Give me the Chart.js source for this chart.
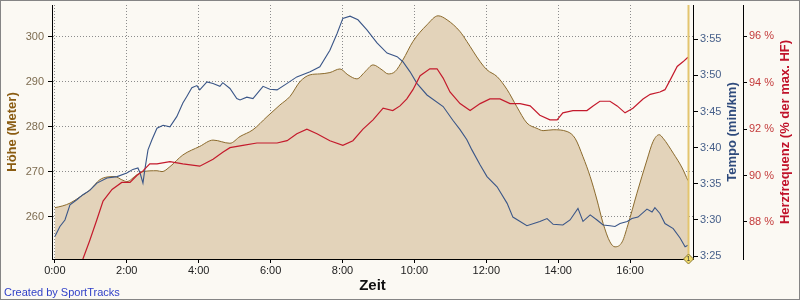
<!DOCTYPE html>
<html>
<head>
<meta charset="utf-8">
<title>Höhe / Tempo / Herzfrequenz</title>
<script src="https://cdn.jsdelivr.net/npm/chart.js@4.4.1/dist/chart.umd.min.js"></script>
<style>
  html, body { margin: 0; padding: 0; background: #fbf9f3; }
  #wrap { position: relative; width: 800px; height: 300px; }
  #chart { display: block; }
  #credit {
    position: absolute; left: 4px; top: 286px; line-height: 13px;
    font: 11px "Liberation Sans", Arial, sans-serif; color: #2f3fc8;
  }
</style>
</head>
<body>
<div id="wrap">
  <canvas id="chart" width="800" height="300"></canvas>
  <div id="credit">Created by SportTracks</div>
</div>
<script>
// Time axis in minutes, tick labels m:ss
const xTicks = [0, 2, 4, 6, 8, 10, 12, 14, 16];
const elevationTicks = [260, 270, 280, 290, 300];
const paceTicks = [205, 210, 215, 220, 225, 230, 235]; // seconds per km
const heartTicks = [88, 90, 92, 94, 96];

// Höhe (Meter)
const elevationTimes = [0.00, 0.22, 0.42, 0.70, 0.97, 1.25, 1.45, 1.67, 1.86, 2.00, 2.28, 2.45, 2.84, 2.98, 3.20, 3.56,
  4.03, 4.40, 4.87, 5.15, 5.51, 5.90, 6.26, 6.54, 6.82, 7.10, 7.37, 7.65, 7.93, 8.15, 8.40, 8.63, 8.85, 9.10, 9.27,
  9.46, 9.68, 9.96, 10.35, 10.66, 10.91, 11.27, 11.46, 11.83, 12.02, 12.30, 12.58, 12.85, 13.13, 13.41, 13.58, 13.86,
  14.25, 14.47, 14.69, 14.89, 15.08, 15.25, 15.44, 15.58, 15.78, 15.94, 16.19, 16.47, 16.64, 16.81, 16.92, 17.20,
  17.45, 17.61];
const elevationValues = [262.0, 262.4, 263.0, 264.4, 265.9, 268.2, 268.8, 268.9, 268.2, 267.8, 269.3, 270.0, 270.2,
  270.0, 271.1, 273.7, 275.6, 277.0, 276.3, 277.8, 279.3, 282.2, 284.8, 286.7, 290.0, 291.5, 291.7, 292.0, 292.8,
  291.5, 290.6, 292.2, 293.7, 292.6, 291.7, 292.2, 294.8, 298.9, 302.6, 304.6, 303.7, 301.1, 298.9, 294.4, 292.6,
  291.1, 288.2, 284.4, 280.8, 279.6, 279.1, 279.3, 278.9, 277.4, 273.3, 268.9, 263.7, 258.5, 254.4, 253.3, 254.4,
  258.2, 265.2, 272.6, 276.7, 278.2, 277.4, 274.1, 270.8, 268.0];

// Tempo (sec/km)
const paceTimes = [0.00, 0.14, 0.28, 0.42, 0.61, 0.78, 0.97, 1.17, 1.45, 1.73, 2.00, 2.17, 2.31, 2.37, 2.45, 2.50,
  2.59, 2.70, 2.84, 3.01, 3.20, 3.39, 3.56, 3.67, 3.81, 3.95, 4.03, 4.23, 4.40, 4.59, 4.67, 4.87, 5.06, 5.15, 5.34,
  5.51, 5.79, 5.98, 6.18, 6.46, 6.73, 7.10, 7.37, 7.65, 7.85, 8.01, 8.21, 8.43, 8.68, 8.96, 9.24, 9.52, 9.68, 9.88,
  10.07, 10.35, 10.80, 11.07, 11.27, 11.46, 11.60, 11.83, 12.02, 12.30, 12.58, 12.74, 13.13, 13.49, 13.69, 13.86,
  14.13, 14.33, 14.55, 14.69, 14.89, 15.08, 15.25, 15.44, 15.58, 15.72, 15.92, 16.05, 16.22, 16.47, 16.61, 16.69,
  16.83, 16.97, 17.20, 17.39, 17.53, 17.61];
const paceValues = [207.7, 209.1, 210.0, 212.1, 212.8, 213.5, 214.1, 215.1, 215.8, 216.0, 216.5, 217.0, 217.2, 216.5,
  215.1, 216.9, 219.7, 221.1, 222.7, 223.1, 222.9, 224.3, 226.2, 227.1, 228.3, 228.6, 228.0, 229.1, 228.9, 228.5,
  229.0, 228.2, 226.8, 226.6, 227.0, 226.8, 228.5, 228.1, 228.0, 228.9, 229.8, 230.5, 231.2, 233.5, 235.8, 237.9,
  238.2, 237.7, 236.3, 234.5, 233.1, 232.6, 231.9, 230.5, 228.9, 227.3, 225.7, 223.8, 222.5, 221.1, 219.7, 217.6,
  216.0, 214.6, 212.3, 210.4, 209.2, 209.8, 210.2, 209.4, 209.3, 210.0, 211.6, 209.8, 210.7, 210.0, 209.3, 209.2,
  209.1, 209.5, 209.8, 210.2, 210.4, 211.5, 211.1, 211.7, 210.9, 209.5, 208.8, 207.5, 206.3, 206.5];

// Herzfrequenz (% der max. HF)
const heartTimes = [0.70, 0.78, 0.97, 1.17, 1.34, 1.59, 1.86, 2.09, 2.28, 2.45, 2.64, 2.84, 3.20, 3.56, 4.03, 4.40,
  4.67, 4.87, 5.23, 5.62, 6.18, 6.46, 6.73, 7.01, 7.29, 7.65, 8.01, 8.29, 8.57, 8.85, 9.13, 9.40, 9.60, 9.79, 9.96,
  10.16, 10.43, 10.63, 10.80, 10.99, 11.27, 11.55, 11.83, 12.10, 12.38, 12.66, 12.94, 13.22, 13.49, 13.77, 13.97,
  14.13, 14.41, 14.80, 14.97, 15.16, 15.44, 15.64, 15.86, 16.08, 16.36, 16.56, 16.83, 16.97, 17.11, 17.31, 17.47,
  17.61];
const heartValues = [86.0, 86.4, 87.2, 88.1, 88.9, 89.4, 89.7, 89.7, 90.0, 90.2, 90.5, 90.5, 90.6, 90.5, 90.4, 90.7,
  91.0, 91.2, 91.3, 91.4, 91.4, 91.5, 91.8, 92.0, 91.8, 91.5, 91.3, 91.5, 92.0, 92.4, 92.9, 92.8, 93.0, 93.3, 93.7,
  94.3, 94.6, 94.6, 94.2, 93.6, 93.1, 92.8, 93.1, 93.3, 93.3, 93.1, 93.1, 93.0, 92.6, 92.4, 92.4, 92.7, 92.8, 92.8,
  93.0, 93.2, 93.2, 93.0, 92.7, 92.9, 93.3, 93.5, 93.6, 93.7, 94.1, 94.7, 94.9, 95.1];

const lapEnd = elevationTimes[elevationTimes.length - 1];

const FONT = '"Liberation Sans", Arial, sans-serif';

function toPoints(times, values) {
    return times.map((t, i) => ({ x: t, y: values[i] }));
}

function formatPace(sec) {
    const m = Math.floor(sec / 60);
    const s = Math.round(sec % 60);
    return m + ':' + String(s).padStart(2, '0');
}

// Keep the plot area where the reference has it: drop the label overhang padding
function fixWidth(w) {
    return s => {
        s.width = w;
        s.paddingTop = 0;
        s.paddingBottom = 0;
    };
}

// Vertical lap line at the end of the run with its "1" diamond
const lapMarker = {
    id: 'lapMarker',
    afterDatasetsDraw(chart) {
        const { ctx, chartArea, scales } = chart;
        const x = Math.round(scales.x.getPixelForValue(lapEnd)) + 0.5;
        const y = chartArea.bottom;
        ctx.save();
        ctx.strokeStyle = '#e3c56e';
        ctx.lineWidth = 2;
        ctx.beginPath();
        ctx.moveTo(x, chartArea.top);
        ctx.lineTo(x, y);
        ctx.stroke();
        ctx.beginPath();
        ctx.moveTo(x, y - 5);
        ctx.lineTo(x + 5, y);
        ctx.lineTo(x, y + 5);
        ctx.lineTo(x - 5, y);
        ctx.closePath();
        ctx.fillStyle = '#f1dc6c';
        ctx.fill();
        ctx.lineWidth = 1;
        ctx.strokeStyle = '#8c7a34';
        ctx.stroke();
        ctx.fillStyle = '#333';
        ctx.font = '7px ' + FONT;
        ctx.textAlign = 'center';
        ctx.textBaseline = 'middle';
        ctx.fillText('1', x, y + 0.5);
        ctx.restore();
    }
};

// Right-hand axis titles, read bottom to top like the left one
const sideTitles = {
    id: 'sideTitles',
    afterDraw(chart) {
        const { ctx, chartArea } = chart;
        const yMid = (chartArea.top + chartArea.bottom) / 2;
        const items = [
            ['yPace', 'Tempo (min/km)', '#2e4a7c', 11],
            ['yHeart', 'Herzfrequenz (% der max. HF)', '#c0122a', 15]
        ];
        items.forEach(([id, text, color, inset]) => {
            const s = chart.scales[id];
            ctx.save();
            ctx.translate(s.right - inset, yMid);
            ctx.rotate(-Math.PI / 2);
            ctx.fillStyle = color;
            ctx.font = 'bold 13px ' + FONT;
            ctx.textAlign = 'center';
            ctx.textBaseline = 'middle';
            ctx.fillText(text, 0, 0);
            ctx.restore();
        });
        // outer frame
        ctx.save();
        ctx.strokeStyle = '#858585';
        ctx.lineWidth = 1;
        ctx.strokeRect(0.5, 0.5, chart.width - 1, chart.height - 1);
        ctx.restore();
    }
};

function tickFont() {
    return { family: FONT, size: 11 };
}

function createChart() {
    const ctx = document.getElementById('chart').getContext('2d');

    return new Chart(ctx, {
        type: 'line',
        data: {
            datasets: [{
                label: 'Herzfrequenz',
                data: toPoints(heartTimes, heartValues),
                yAxisID: 'yHeart',
                borderColor: '#c41a2c',
                borderWidth: 1.2,
                pointRadius: 0,
                tension: 0,
                fill: false,
                order: 0
            }, {
                label: 'Tempo',
                data: toPoints(paceTimes, paceValues),
                yAxisID: 'yPace',
                borderColor: '#3a5688',
                borderWidth: 1.1,
                pointRadius: 0,
                tension: 0,
                fill: false,
                order: 1
            }, {
                label: 'Höhe',
                data: toPoints(elevationTimes, elevationValues),
                yAxisID: 'yElev',
                borderColor: '#8b6a2c',
                backgroundColor: '#e3d3ba',
                borderWidth: 1,
                pointRadius: 0,
                cubicInterpolationMode: 'monotone',
                fill: 'start',
                order: 2
            }]
        },
        options: {
            responsive: false,
            animation: false,
            layout: { padding: { top: 5, left: 0, right: 0, bottom: 0 } },
            plugins: {
                legend: { display: false },
                tooltip: { enabled: false }
            },
            scales: {
                x: {
                    type: 'linear',
                    min: -0.08,
                    max: 17.75,
                    afterBuildTicks: s => { s.ticks = xTicks.map(v => ({ value: v })); },
                    afterFit: s => {
                        s.height = 41;
                        s.paddingLeft = 0;
                        s.paddingRight = 0;
                    },
                    ticks: {
                        color: '#222',
                        font: tickFont(),
                        padding: 1,
                        maxRotation: 0,
                        autoSkip: false,
                        callback: v => v + ':00'
                    },
                    grid: { color: '#8c8c8c', tickColor: '#000', tickLength: 4 },
                    border: { color: '#000', dash: [1, 2] },
                    title: {
                        display: true,
                        text: 'Zeit',
                        color: '#111',
                        font: { family: FONT, size: 15, weight: 'bold' },
                        padding: { top: 0, bottom: 5 }
                    }
                },
                yElev: {
                    position: 'left',
                    min: 250.6,
                    max: 307.0,
                    afterBuildTicks: s => { s.ticks = elevationTicks.map(v => ({ value: v })); },
                    afterFit: fixWidth(52),
                    ticks: { color: '#7d6c50', font: tickFont(), padding: 4 },
                    grid: { color: '#8c8c8c', tickColor: '#000', tickLength: 4 },
                    border: { color: '#000', dash: [1, 2] },
                    title: {
                        display: true,
                        text: 'Höhe (Meter)',
                        color: '#8a5c12',
                        font: { family: FONT, size: 13, weight: 'bold' },
                        padding: { top: 5, bottom: 0 }
                    }
                },
                yPace: {
                    position: 'right',
                    weight: 1,
                    min: 204.6,
                    max: 239.75,
                    afterBuildTicks: s => { s.ticks = paceTicks.map(v => ({ value: v })); },
                    afterFit: fixWidth(50),
                    ticks: { color: '#47608a', font: tickFont(), padding: 2, callback: v => formatPace(v) },
                    grid: { drawOnChartArea: false, tickColor: '#000', tickLength: 5 },
                    border: { color: '#000' }
                },
                yHeart: {
                    position: 'right',
                    weight: 2,
                    min: 86.4,
                    max: 97.35,
                    afterBuildTicks: s => { s.ticks = heartTicks.map(v => ({ value: v })); },
                    afterFit: fixWidth(57),
                    ticks: { color: '#c43c3c', font: tickFont(), padding: 2, callback: v => v + ' %' },
                    grid: { drawOnChartArea: false, tickColor: '#000', tickLength: 4 },
                    border: { color: '#000' }
                }
            }
        },
        plugins: [lapMarker, sideTitles]
    });
}

createChart();
</script>
</body>
</html>
